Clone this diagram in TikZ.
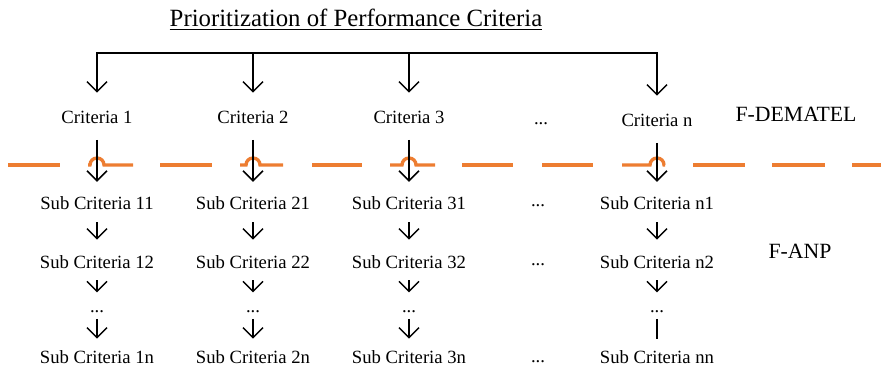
\documentclass[tikz,border=0pt]{standalone}
\usepackage{fontspec}
\setmainfont{Liberation Serif}
\usetikzlibrary{arrows.meta}
\definecolor{dashorange}{RGB}{237,125,49}
\tikzset{>={Straight Barb[length=7.5pt,width=15pt]}}

\begin{document}
\begin{tikzpicture}[x=0.75pt,y=0.75pt,
  txt/.style={inner sep=0pt, text height=10pt, text depth=0pt, font=\fontsize{14}{16}\selectfont},
  lbl/.style={anchor=base, font=\fontsize{16.3}{19}\selectfont},
  link/.style={line width=1.1pt},
  sep/.style={dashorange, line width=2.5pt}]

  \useasboundingbox (0,0) rectangle (881,-370);

  \node[anchor=base, font=\fontsize{18.6}{22}\selectfont] (title) at (356,-27)
    {\underline{Prioritization of Performance Criteria}};
  \node[lbl] (dematel) at (796,-122) {F-DEMATEL};
  \node[lbl] (anp)     at (800,-258) {F-ANP};

  % Columns
  \foreach \x/\col/\y in {97/1/117,253/2/117,409/3/117,657/n/120} {
    \node[txt] (crit\col)    at (\x,-\y)  {Criteria \col};
    \node[txt] (sub\col1)    at (\x,-203) {Sub Criteria \col1};
    \node[txt] (sub\col2)    at (\x,-262) {Sub Criteria \col2};
    \node[txt] (subdots\col) at (\x,-306) {...};
    \node[txt] (sub\col n)   at (\x,-357) {Sub Criteria \col n};
  }
  \node[txt] (dotsc) at (541,-118) {...};
  \node[txt] (dots1) at (538,-200) {...};
  \node[txt] (dots2) at (538,-259) {...};
  \node[txt] (dotsn) at (538,-356) {...};

  % Separator
  \foreach \a/\b in {8/60,160/212,312/362,462/513,542/593,693/745,772/825,852/881}
    \draw[sep] (\a,-165) -- (\b,-165);
  \foreach \a/\h/\b in {88/97/133,240/253/283,390/409/435,622/657/665}
    \draw[sep] (\a,-165) -- (\h-7,-165) arc[start angle=180,end angle=0,radius=7] -- (\b,-165);

  % Edges
  \coordinate (bar1) at (97,-53);
  \coordinate (barn) at (657,-53);
  \draw[link, line cap=rect] (bar1) -- (barn);
  \foreach \col/\tip in {1/->,2/->,3/->,n/-} {
    \draw[link,->,shorten >=13pt] (crit\col |- bar1) -- (crit\col);
    \draw[link,->,shorten <=12pt,shorten >=10.7pt] (crit\col) -- (sub\col1);
    \draw[link,->,shorten <=9.2pt,shorten >=11.5pt] (sub\col1) -- (sub\col2);
    \draw[link,->,shorten <=8.5pt,shorten >=5pt] (sub\col2) -- (subdots\col);
    \draw[link,\tip,shorten <=4.5pt,shorten >=8.5pt] (subdots\col) -- (sub\col n);
  }

\end{tikzpicture}
\end{document}
